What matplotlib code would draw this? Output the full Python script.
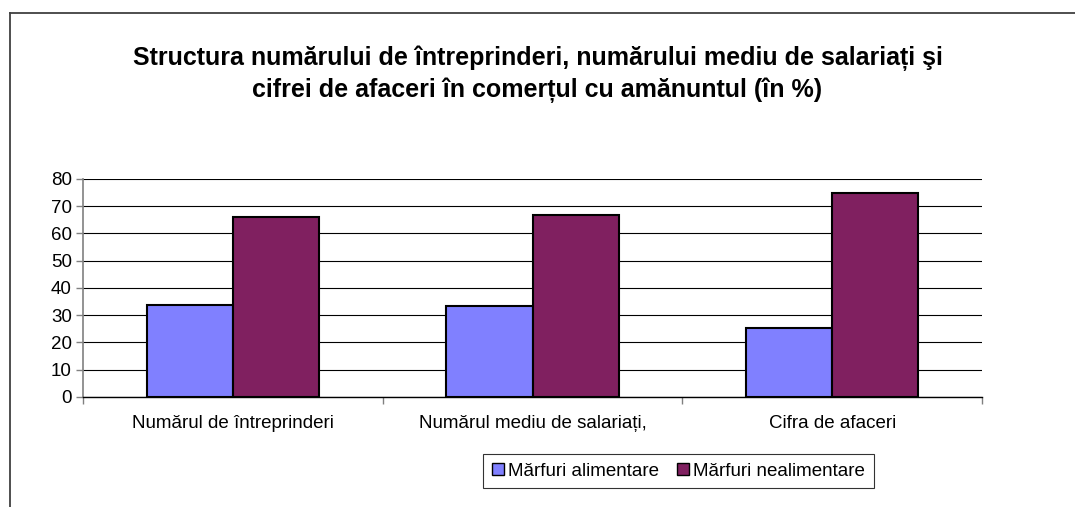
import matplotlib
matplotlib.use("Agg")
import matplotlib.pyplot as plt
from matplotlib.patches import Patch
from matplotlib.lines import Line2D
import numpy as np

plt.rcParams['font.family'] = ['Liberation Sans', 'DejaVu Sans']

categories = ["Numărul de întreprinderi", "Numărul mediu de salariați,", "Cifra de afaceri"]
series_names = ["Mărfuri alimentare", "Mărfuri nealimentare"]
alimentare = [33.8, 33.4, 25.2]
nealimentare = [66.2, 66.6, 74.8]
yticks = [0, 10, 20, 30, 40, 50, 60, 70, 80]
title = "Structura numărului de întreprinderi, numărului mediu de salariați şi\ncifrei de afaceri în comerțul cu amănuntul (în %)"

colors = ["#8080FF", "#802060"]

fig = plt.figure(figsize=(10.75, 5.07), dpi=100)
ax = fig.add_axes([0.0772, 0.217, 0.8363, 0.430])

x = np.arange(len(categories))
w = 0.287
ax.bar(x - w/2, alimentare, w, color=colors[0], edgecolor="black", linewidth=1.5, zorder=3)
ax.bar(x + w/2, nealimentare, w, color=colors[1], edgecolor="black", linewidth=1.5, zorder=3)

ax.set_xlim(-0.5, len(categories) - 0.5)
ax.set_ylim(0, 80)
ax.set_yticks(yticks)
ax.set_yticklabels([str(v) for v in yticks], fontsize=13.5)
ax.yaxis.grid(True, color="black", linewidth=0.8, zorder=0)
ax.set_axisbelow(True)

ax.set_xticks(x)
ax.set_xticklabels(categories, fontsize=13.5)
ax.tick_params(axis="x", length=0, pad=13)
ax.set_xticks(np.arange(-0.5, len(categories)), minor=True)
ax.tick_params(axis="x", which="minor", length=5, color="#808080", width=1)
ax.tick_params(axis="y", length=5, color="#808080", width=1, pad=3)

for s in ["top", "right"]:
    ax.spines[s].set_visible(False)
ax.spines["left"].set_color("#808080")
ax.spines["left"].set_linewidth(1.2)
ax.spines["bottom"].set_color("black")
ax.spines["bottom"].set_linewidth(1.0)

fig.text(0.5, 0.853, title, ha="center", va="center", fontsize=18, fontweight="bold", linespacing=1.35)

handles = [Patch(facecolor=c, edgecolor="black", linewidth=1.0) for c in colors]
leg = fig.legend(handles, series_names, loc="center", bbox_to_anchor=(0.631, 0.071), ncol=2,
                 fontsize=13.5, frameon=True, fancybox=False, edgecolor="black",
                 handlelength=0.65, handleheight=0.65, handletextpad=0.2, columnspacing=1.0,
                 borderpad=0.45)
leg.get_frame().set_linewidth(0.8)

# outer chart frame (partially visible)
fig.add_artist(Line2D([10/1075, 10/1075], [0, 1 - 13/507], color="#404040", linewidth=1.3, transform=fig.transFigure))
fig.add_artist(Line2D([10/1075, 1], [1 - 13/507, 1 - 13/507], color="#404040", linewidth=1.3, transform=fig.transFigure))

fig.savefig("out.png", dpi=100)
